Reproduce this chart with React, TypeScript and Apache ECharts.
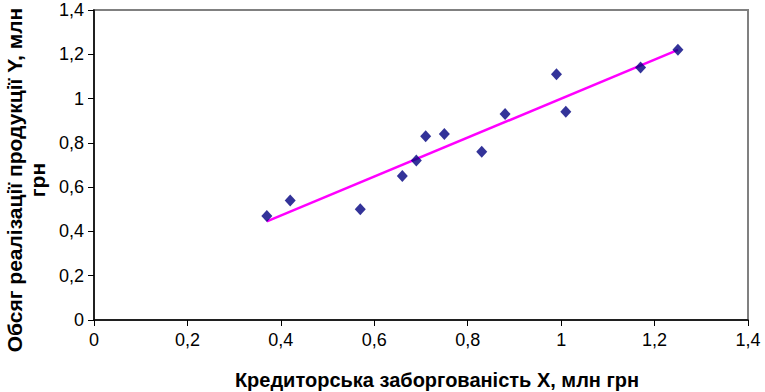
import React, { useEffect, useRef } from "react";
import * as echarts from "echarts";

const xValues = [0.37, 0.42, 0.57, 0.66, 0.69, 0.71, 0.75, 0.83, 0.88, 0.99, 1.01, 1.17, 1.25];
const yValues = [0.47, 0.54, 0.5, 0.65, 0.72, 0.83, 0.84, 0.76, 0.93, 1.11, 0.94, 1.14, 1.22];
const trendX = [0.37, 1.25];
const trendY = [0.445, 1.22];
const xTitle = "Кредиторська заборгованість Х, млн грн";
const yTitle = "Обсяг реалізації продукції Y, млн\nгрн";

export default function App() {
  const ref = useRef<HTMLDivElement>(null);
  useEffect(() => {
    if (!ref.current) return;
    const chart = echarts.init(ref.current, null, { renderer: "svg" });
    const font = "'Liberation Sans', Arial, sans-serif";
    const fmt = (v: number) => String(Math.round(v * 10) / 10).replace(".", ",");
    chart.setOption({
      animation: false,
      backgroundColor: "#ffffff",
      grid: {
        left: 94, right: 17, top: 10, bottom: 72,
        outerBoundsMode: "none", containLabel: false,
        show: true, borderColor: "#808080", borderWidth: 2,
      },
      graphic: [
        {
          type: "text",
          x: 26,
          y: 180,
          rotation: Math.PI / 2,
          style: {
            text: yTitle,
            fill: "#000",
            font: "bold 21px 'Liberation Sans', Arial, sans-serif",
            lineHeight: 23,
            align: "center",
            verticalAlign: "middle",
          },
        },
      ],
      xAxis: {
        type: "value",
        min: 0,
        max: 1.4,
        interval: 0.2,
        splitLine: { show: false },
        axisLine: { show: true, onZero: false, lineStyle: { color: "#000", width: 1.5 } },
        axisTick: { show: true, length: 6, lineStyle: { color: "#000" } },
        axisLabel: { color: "#000", fontSize: 18, fontFamily: font, margin: 11, formatter: fmt },
        name: xTitle,
        nameLocation: "middle",
        nameGap: 50,
        nameTextStyle: { color: "#000", fontSize: 20, fontWeight: "bold", fontFamily: font, padding: [0, 0, 0, 32] },
      },
      yAxis: {
        type: "value",
        min: 0,
        max: 1.4,
        interval: 0.2,
        splitLine: { show: false },
        axisLine: { show: true, onZero: false, lineStyle: { color: "#000", width: 1.5 } },
        axisTick: { show: true, length: 6, lineStyle: { color: "#000" } },
        axisLabel: { color: "#000", fontSize: 18, fontFamily: font, margin: 10, formatter: fmt },
      },
      series: [
        {
          type: "line",
          data: trendX.map((x, i) => [x, trendY[i]]),
          symbol: "none",
          lineStyle: { color: "#ff00ff", width: 2.5 },
          z: 2,
        },
        {
          type: "scatter",
          data: xValues.map((x, i) => [x, yValues[i]]),
          symbol: "diamond",
          symbolSize: [11, 12],
          itemStyle: { color: "#000080" },
          z: 3,
        },
      ],
    });
    return () => chart.dispose();
  }, []);
  return <div ref={ref} style={{ width: 765, height: 392, position: "absolute", left: 0, top: 0 }} />;
}
